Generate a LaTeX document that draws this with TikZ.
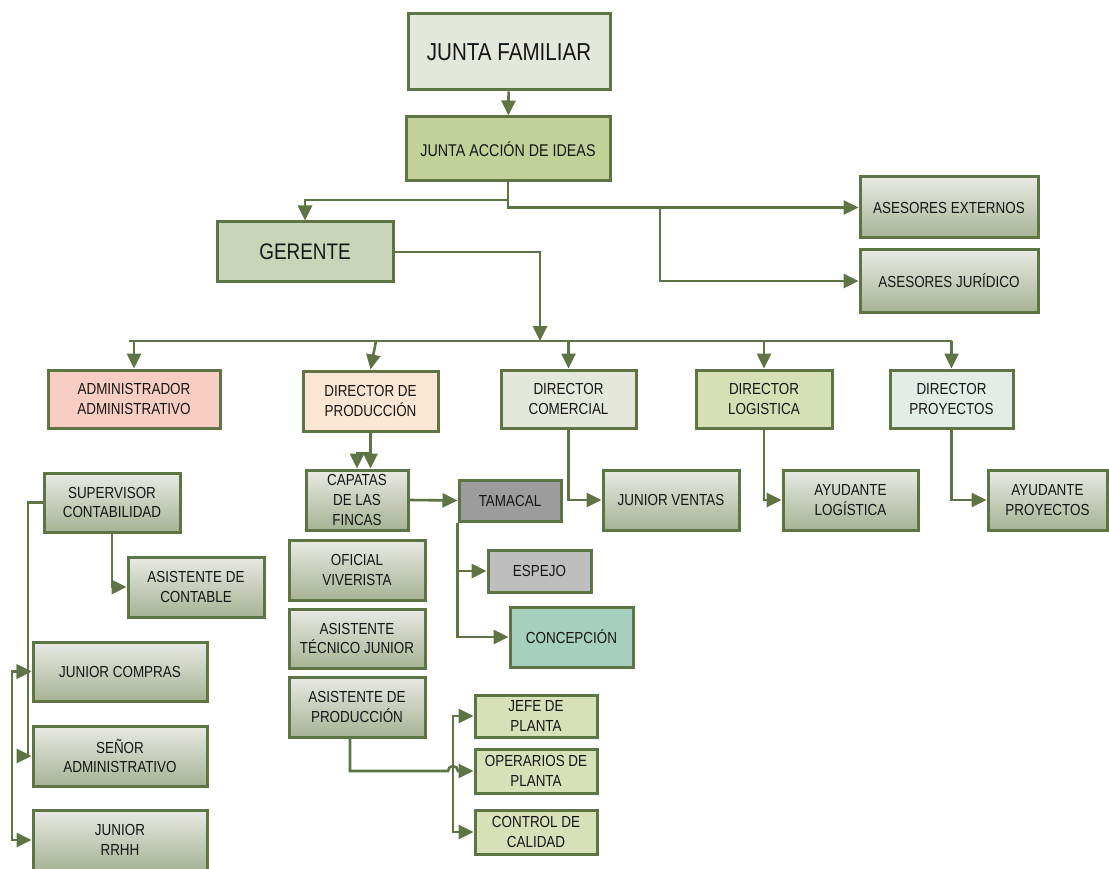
\documentclass[tikz,border=0pt]{standalone}
\usepackage{fontspec}
\setmainfont{Liberation Sans}[FakeStretch=0.84]
\usetikzlibrary{arrows.meta,calc}
\definecolor{edge}{HTML}{5E7444}
\definecolor{jfcol}{HTML}{E4E8DA}
\definecolor{jaicol}{HTML}{C2D197}
\definecolor{gercol}{HTML}{C9D5B8}
\definecolor{admcol}{HTML}{F8CEC3}
\definecolor{prodcol}{HTML}{FAE6D3}
\definecolor{comcol}{HTML}{E3E8DA}
\definecolor{logcol}{HTML}{D6E0B6}
\definecolor{proycol}{HTML}{E1EDE6}
\definecolor{gtop}{HTML}{E8EAE4}
\definecolor{gbot}{HTML}{A7B394}
\definecolor{tamcol}{HTML}{9C9C9C}
\definecolor{espcol}{HTML}{BEBEBE}
\definecolor{concol}{HTML}{A6CFBD}
\definecolor{plantcol}{HTML}{D7E0B8}
\definecolor{ink}{HTML}{161616}
\tikzset{
  orgbox/.style={draw=edge, line width=3pt, align=center, inner sep=1pt,
    text=ink, font=\fontsize{16}{19.5}\selectfont},
  shadedbox/.style={orgbox, top color=gtop, bottom color=gbot},
  link/.style={draw=edge, line width=2.6pt, -{Triangle[length=15pt,width=14pt]}},
  twolink/.style={draw=edge, line width=2.6pt, {Triangle[length=15pt,width=14pt]}-{Triangle[length=15pt,width=14pt]}},
  plain/.style={draw=edge, line width=2.6pt},
}
% place a box by its corners: \orgnode{name}{style}{x1}{y1}{x2}{y2}{text}
\newcommand{\orgnode}[7]{%
  \node[#2, minimum width={(#5-#3)*1pt}, minimum height={(#6-#4)*1pt}]
    (#1) at ({(#3+#5)/2},{(#4+#6)/2}) {#7};}
\begin{document}
\begin{tikzpicture}[x=1pt,y=-1pt]
\useasboundingbox (0,0) rectangle (1109,869);

% top levels
\orgnode{jf}{orgbox, fill=jfcol, font=\fontsize{24.5}{28}\selectfont}{408}{14}{610}{90}{JUNTA FAMILIAR}
\orgnode{jai}{orgbox, fill=jaicol, font=\fontsize{17}{20}\selectfont}{406}{117}{610}{181}{JUNTA ACCIÓN DE IDEAS}
\orgnode{ger}{orgbox, fill=gercol, font=\fontsize{22.5}{26}\selectfont}{217}{222}{393}{282}{GERENTE}
\orgnode{aext}{shadedbox}{860}{177}{1038}{238}{ASESORES EXTERNOS}
\orgnode{ajur}{shadedbox}{860}{250}{1038}{312}{ASESORES JURÍDICO}

% directors
\orgnode{adm}{orgbox, fill=admcol}{48}{370}{220}{428}{ADMINISTRADOR\\ADMINISTRATIVO}
\orgnode{dprod}{orgbox, fill=prodcol}{303}{371}{438}{431}{DIRECTOR DE\\PRODUCCIÓN}
\orgnode{dcom}{orgbox, fill=comcol}{501}{370}{636}{428}{DIRECTOR\\COMERCIAL}
\orgnode{dlog}{orgbox, fill=logcol}{696}{370}{832}{428}{DIRECTOR\\LOGISTICA}
\orgnode{dproy}{orgbox, fill=proycol}{890}{370}{1013}{428}{DIRECTOR\\PROYECTOS}

% production area
\orgnode{cap}{shadedbox, font=\fontsize{16}{20}\selectfont}{306}{470}{408}{530}{CAPATAS\\DE LAS\\FINCAS}
\orgnode{tam}{orgbox, fill=tamcol}{459}{480}{561}{521}{TAMACAL}
\orgnode{esp}{orgbox, fill=espcol}{488}{550}{591}{592}{ESPEJO}
\orgnode{con}{orgbox, fill=concol}{510}{607}{633}{667}{CONCEPCIÓN}
\orgnode{ofi}{shadedbox}{289}{540}{425}{600}{OFICIAL\\VIVERISTA}
\orgnode{atj}{shadedbox}{289}{609}{425}{668}{ASISTENTE\\TÉCNICO JUNIOR}
\orgnode{apr}{shadedbox}{289}{677}{425}{737}{ASISTENTE DE\\PRODUCCIÓN}
\orgnode{jefe}{orgbox, fill=plantcol}{475}{695}{597}{737}{JEFE DE\\PLANTA}
\orgnode{oper}{orgbox, fill=plantcol}{475}{749}{597}{793}{OPERARIOS DE\\PLANTA}
\orgnode{ctrl}{orgbox, fill=plantcol}{475}{810}{597}{854}{CONTROL DE\\CALIDAD}

% commercial, logistics, projects
\orgnode{jven}{shadedbox}{603}{470}{739}{530}{JUNIOR VENTAS}
\orgnode{alog}{shadedbox}{783}{470}{918}{530}{AYUDANTE\\LOGÍSTICA}
\orgnode{aproy}{shadedbox}{988}{470}{1107}{530}{AYUDANTE\\PROYECTOS}

% administration area
\orgnode{sup}{shadedbox}{44}{473}{180}{532}{SUPERVISOR\\CONTABILIDAD}
\orgnode{acon}{shadedbox}{128}{557}{264}{617}{ASISTENTE DE\\CONTABLE}
\orgnode{jcom}{shadedbox}{33}{642}{207}{701}{JUNIOR COMPRAS}
\orgnode{sen}{shadedbox}{33}{726}{207}{786}{SEÑOR\\ADMINISTRATIVO}
\orgnode{jrrhh}{shadedbox}{33}{810}{207}{870}{JUNIOR\\RRHH}

% junction points
\coordinate (split) at (jai.south |- 0,200);
\coordinate (advsplit) at (660,207.5);
\coordinate (bus) at (540,341);
\coordinate (busL) at (129,341);
\coordinate (busR) at (952,341);
\coordinate (capsplit) at (371,453);
\coordinate (plantbar) at (453,716);
\coordinate (leftbar) at (28,502.5);
\coordinate (leftbar2) at (12,671.5);

% upper connectors
\draw[link] (jf) -- (jai);
\draw[link] (jai.south) -- (split) -| (ger.north);
\draw[link] (jai.south) |- (aext.west);
\draw[link] (advsplit) |- (ajur.west);
\draw[link] (ger.east) -| (bus);

% director bus
\draw[plain] (busL) -- (busR);
\draw[link] (adm.north |- bus) -- (adm.north);
\draw[link] (376,341) -- (dprod.north);
\draw[link] (dcom.north |- bus) -- (dcom.north);
\draw[link] (dlog.north |- bus) -- (dlog.north);
\draw[link] (dproy.north |- bus) -- (dproy.north);

% production
\draw[link] (dprod.south) -- (dprod.south |- cap.north);
\draw[link] (capsplit) -| (cap.north);
\draw[link] (cap.east) -- (tam.west);
\draw[link] (tam.south west) |- (esp.west);
\draw[link] (tam.south west) |- (con.west);
\draw[link] ([xshift=-7pt]apr.south) |- (448,771) arc[start angle=180, end angle=360, radius=5] -- (oper.west);
\draw[twolink] (jefe.west) -| (plantbar) |- (ctrl.west);

% commercial, logistics, projects
\draw[link] (dcom.south) |- (jven.west);
\draw[link] (dlog.south) |- (alog.west);
\draw[link] (dproy.south) |- (aproy.west);

% administration
\draw[link] (sup.south) |- (acon.west);
\draw[link] (sup.west) -- (leftbar) |- (sen.west);
\draw[link] (leftbar |- jcom.west) -- (jcom.west);
\draw[twolink] (jcom.west) -- (leftbar2) |- (jrrhh.west);
\end{tikzpicture}
\end{document}
